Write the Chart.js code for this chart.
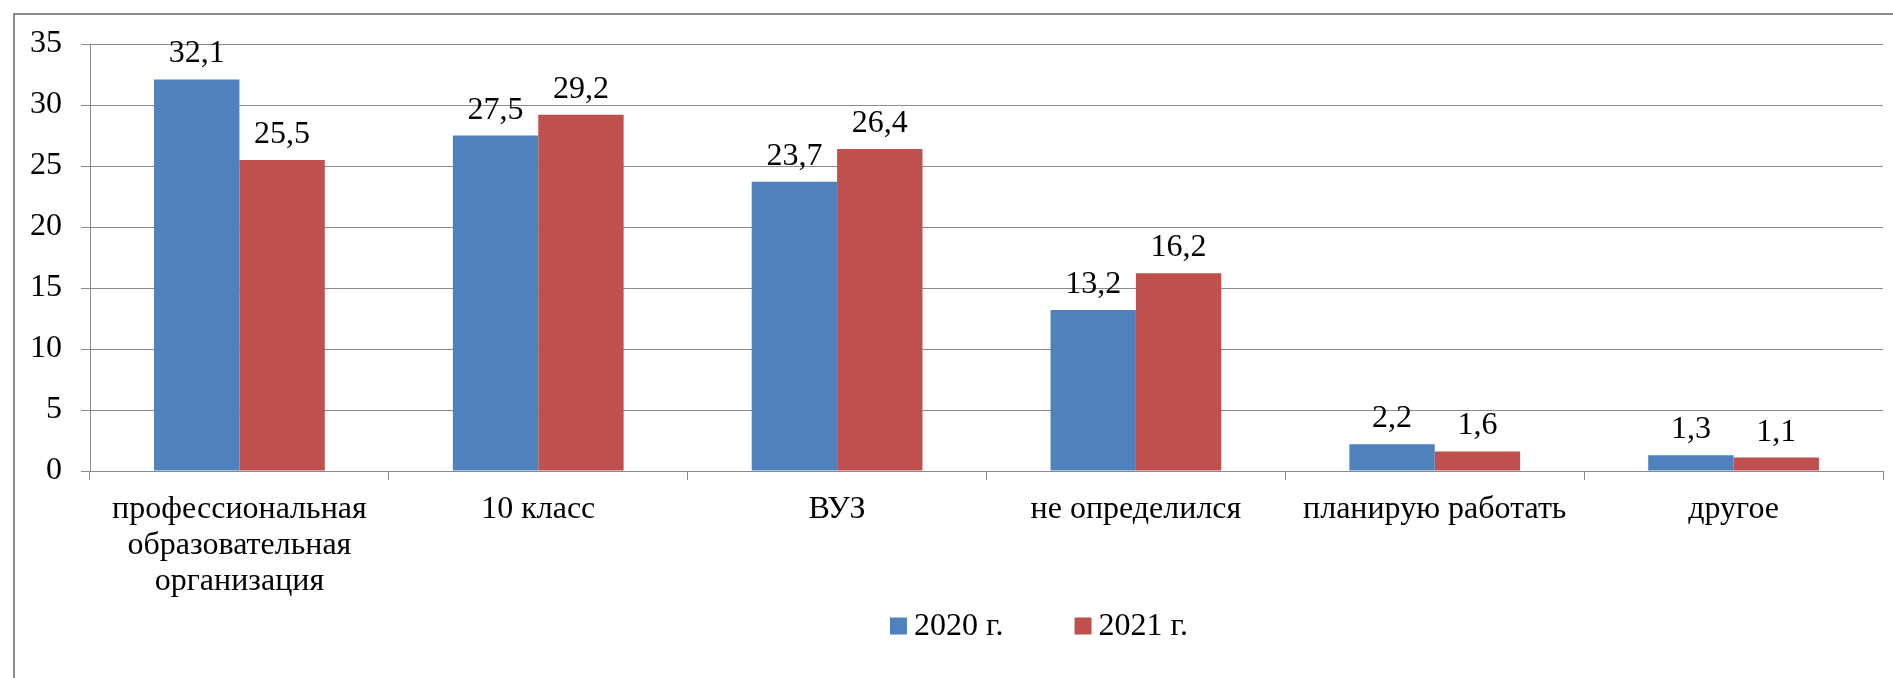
<!DOCTYPE html>
<html>
<head>
<meta charset="utf-8">
<script src="https://cdn.jsdelivr.net/npm/chart.js@4/dist/chart.umd.min.js"></script>
<style>
  html, body { margin: 0; padding: 0; background: #fff; overflow: hidden; }
  #wrap { position: relative; width: 1893px; height: 678px; }
  #frame { position: absolute; left: 13px; top: 13px; width: 1900px; height: 700px; border: 2px solid #8a8a8a; box-sizing: border-box; }
  #chart { position: absolute; left: 0; top: 0; }
</style>
</head>
<body>
<div id="wrap">
  <div id="frame"></div>
  <canvas id="chart" width="1893" height="678"></canvas>
</div>
<script>
const categories = [
  ["профессиональная", "образовательная", "организация"],
  "10 класс",
  "ВУЗ",
  "не определился",
  "планирую работать",
  "другое"
];
const values2020 = [32.1, 27.5, 23.7, 13.2, 2.2, 1.3];
const values2021 = [25.5, 29.2, 26.4, 16.2, 1.6, 1.1];
const seriesNames = ["2020 г.", "2021 г."];

const FONT = "'Liberation Serif', 'Times New Roman', serif";
const FSIZE = 32;

// value labels above the bars, with comma as decimal mark
const barLabels = {
  id: "barLabels",
  afterDatasetsDraw(chart) {
    const c = chart.ctx;
    c.save();
    c.font = FSIZE + "px " + FONT;
    c.fillStyle = "#000";
    c.textAlign = "center";
    c.textBaseline = "alphabetic";
    chart.data.datasets.forEach((ds, i) => {
      chart.getDatasetMeta(i).data.forEach((bar, j) => {
        const txt = ds.data[j].toFixed(1).replace(".", ",");
        c.fillText(txt, bar.x, bar.y - 17);
      });
    });
    c.restore();
  }
};

// legend row under the axis labels (excel style: small square, tight text)
const legendRow = {
  id: "legendRow",
  afterDraw(chart) {
    const c = chart.ctx;
    const a = chart.chartArea;
    c.save();
    c.font = FSIZE + "px " + FONT;
    c.textBaseline = "middle";
    c.textAlign = "left";
    let x = a.left + 800;
    const y = a.bottom + 155;
    chart.data.datasets.forEach((ds) => {
      c.fillStyle = ds.backgroundColor;
      c.fillRect(x, y - 8.5, 17, 17);
      c.fillStyle = "#000";
      c.fillText(ds.label, x + 24, y + 1);
      x += 24 + c.measureText(ds.label).width + 71;
    });
    c.restore();
  }
};

new Chart(document.getElementById("chart"), {
  type: "bar",
  data: {
    labels: categories,
    datasets: [
      {
        label: seriesNames[0],
        data: values2020,
        backgroundColor: "#4F81BD",
        categoryPercentage: 2 / 3.5,
        barPercentage: 1
      },
      {
        label: seriesNames[1],
        data: values2021,
        backgroundColor: "#C0504D",
        categoryPercentage: 2 / 3.5,
        barPercentage: 1
      }
    ]
  },
  options: {
    responsive: false,
    animation: false,
    layout: {
      padding: { top: 44, right: 10, left: 0, bottom: 77 }
    },
    plugins: {
      tooltip: { enabled: false },
      legend: { display: false }
    },
    scales: {
      x: {
        offset: true,
        grid: {
          display: true,
          drawOnChartArea: false,
          drawTicks: true,
          tickLength: 9,
          color: "#8a8a8a",
          offset: true
        },
        border: { color: "#8a8a8a", width: 1 },
        ticks: {
          color: "#000",
          font: { family: FONT, size: FSIZE, lineHeight: 1.12 },
          padding: 12,
          maxRotation: 0,
          autoSkip: false
        },
        afterFit(scale) { scale.height = 130; }
      },
      y: {
        min: 0,
        max: 35,
        ticks: {
          stepSize: 5,
          color: "#000",
          font: { family: FONT, size: FSIZE },
          padding: 19
        },
        grid: {
          color: "#8a8a8a",
          lineWidth: 1,
          tickLength: 9
        },
        border: { color: "#8a8a8a", width: 1 },
        afterFit(scale) { scale.width = 90; }
      }
    }
  },
  plugins: [barLabels, legendRow]
});
</script>
</body>
</html>
